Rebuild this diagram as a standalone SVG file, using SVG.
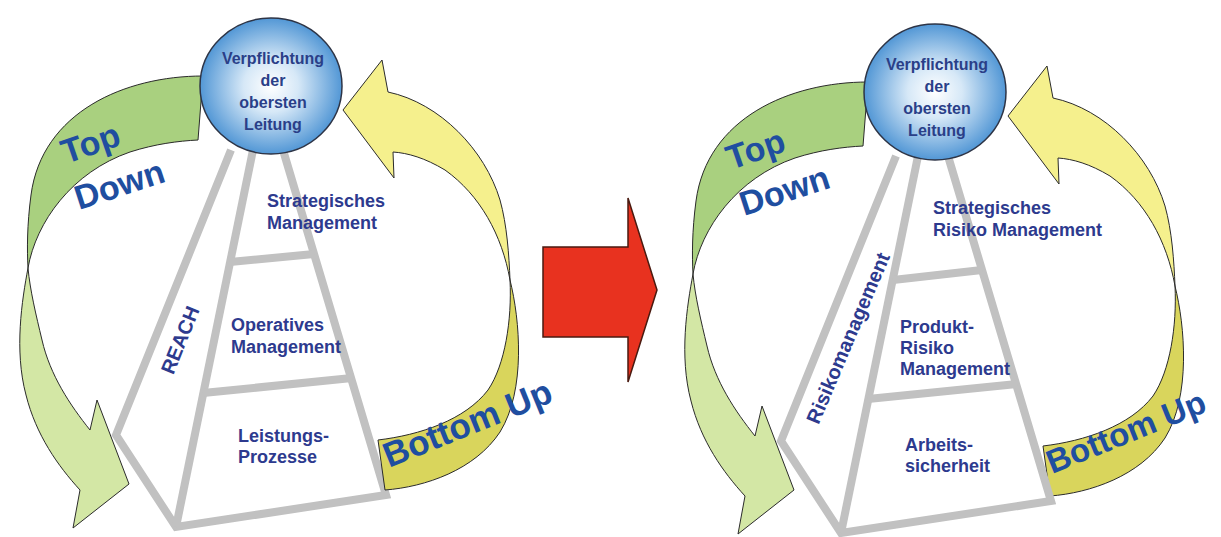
<svg xmlns="http://www.w3.org/2000/svg" width="1221" height="537" viewBox="0 0 1221 537">
  <defs>
    <radialGradient id="ballGrad" cx="50%" cy="50%" r="55%">
      <stop offset="0%" stop-color="#ffffff"/>
      <stop offset="35%" stop-color="#d6e8f7"/>
      <stop offset="100%" stop-color="#3d8ad0"/>
    </radialGradient>
    <style>
      .bar{fill:none;stroke:#c1c1c1;stroke-width:8;stroke-linejoin:miter;stroke-linecap:butt}
      .edge{stroke:#2b2b2b;stroke-width:1}
      .gUp{fill:#a9d07f}
      .gLo{fill:#d3e7a5}
      .yUp{fill:#f5f08d}
      .yLo{fill:#d9d55c}
      .ball{fill:url(#ballGrad);stroke:#2d3446;stroke-width:1.5}
      .btxt{font-family:"Liberation Sans",Arial,sans-serif;font-weight:bold;font-size:16px;fill:#2a3f88;text-anchor:middle}
      .lbl{font-family:"Liberation Sans",Arial,sans-serif;font-weight:bold;font-size:18px;fill:#2d3a8e}
      .big{font-family:"Liberation Sans",Arial,sans-serif;font-weight:bold;font-size:34px;fill:#1f4ea0}
      .bu{font-family:"Liberation Sans",Arial,sans-serif;font-weight:bold;font-size:35px;fill:#1f4ea0}
      .bu2{font-family:"Liberation Sans",Arial,sans-serif;font-weight:bold;font-size:33px;fill:#1f4ea0}
      .rot{font-family:"Liberation Sans",Arial,sans-serif;font-weight:bold;font-size:20px;fill:#2d3a8e;text-anchor:middle}
    </style>
  </defs>
  <rect width="1221" height="537" fill="#ffffff"/>

  <!-- ===== LEFT DIAGRAM ===== -->
  <g id="left-pyramid">
    <polyline class="bar" points="231,150 116,435 176,527 386,495 283,150"/>
    <line class="bar" x1="253" y1="150" x2="176" y2="527"/>
    <line class="bar" x1="230" y1="262" x2="314" y2="254"/>
    <line class="bar" x1="203" y1="393" x2="352" y2="378"/>
  </g>
  <g id="connectors">
    <g id="left-topdown">
      <path class="gUp edge" d="M203,76 C125,76 42,112 31,195 C27,225 27,250 28,268 C36,222 72,172 130,152 C155,144 178,141 198,140 Z"/>
      <path class="gLo edge" d="M28,268 C22,300 14,350 26,395 C36,435 58,466 80,490 L73,528 L129,484 L97,400 L90,430 C70,405 50,375 42,340 C36,315 30,290 28,268 Z"/>
    </g>
    <g id="left-bottomup">
      <path class="yUp edge" d="M343,110 L382,60 L388,92 C440,103 485,150 500,200 C507,225 509,255 510,280 C502,235 480,195 445,170 C425,158 408,153 393,152 L394,178 Z"/>
      <path class="yLo edge" d="M510,280 C520,320 526,390 500,432 C475,470 425,487 385,490 L378,440 C420,435 465,420 488,390 C505,365 512,320 510,280 Z"/>
    </g>
    <g id="right-topdown" transform="translate(665,6)">
      <path class="gUp edge" d="M203,76 C125,76 42,112 31,195 C27,225 27,250 28,268 C36,222 72,172 130,152 C155,144 178,141 198,140 Z"/>
      <path class="gLo edge" d="M28,268 C22,300 14,350 26,395 C36,435 58,466 80,490 L73,528 L129,484 L97,400 L90,430 C70,405 50,375 42,340 C36,315 30,290 28,268 Z"/>
    </g>
    <g id="right-bottomup" transform="translate(665,6)">
      <path class="yUp edge" d="M343,110 L382,60 L388,92 C440,103 485,150 500,200 C507,225 509,255 510,280 C502,235 480,195 445,170 C425,158 408,153 393,152 L394,178 Z"/>
      <path class="yLo edge" d="M510,280 C520,320 526,390 500,432 C475,470 425,487 385,490 L378,440 C420,435 465,420 488,390 C505,365 512,320 510,280 Z"/>
    </g>
  </g>

  <g id="left-top-management">
    <ellipse class="ball" cx="271" cy="86" rx="71" ry="68"/>
    <text class="btxt" x="273" y="64">Verpflichtung</text>
    <text class="btxt" x="273" y="86">der</text>
    <text class="btxt" x="273" y="108">obersten</text>
    <text class="btxt" x="273" y="130">Leitung</text>
  </g>
  <g id="left-labels">
    <text class="lbl" x="267" y="207">Strategisches</text>
    <text class="lbl" x="267" y="229">Management</text>
    <text class="lbl" x="231" y="331">Operatives</text>
    <text class="lbl" x="231" y="353">Management</text>
    <text class="lbl" x="238" y="442">Leistungs-</text>
    <text class="lbl" x="238" y="463">Prozesse</text>
    <text class="rot" transform="translate(180,340) rotate(-68)" y="7">REACH</text>
  </g>
  <g id="left-arrow-labels">
    <text class="big" transform="translate(66,164) rotate(-19)">Top</text>
    <text class="big" transform="translate(79,210) rotate(-18)">Down</text>
    <text class="bu" transform="translate(389,468) rotate(-22)">Bottom Up</text>
  </g>

  <!-- ===== TRANSITION ARROW ===== -->
  <g id="transition-arrow">
    <polygon points="543,247 628,247 628,198 657,290 628,382 628,337 543,337" fill="#e8321f" stroke="#4a1a10" stroke-width="1.5"/>
  </g>

  <!-- ===== RIGHT DIAGRAM ===== -->
  <g id="right-pyramid" transform="translate(665,6)">
    <polyline class="bar" points="231,150 116,435 176,527 386,495 283,150"/>
    <line class="bar" x1="253" y1="150" x2="176" y2="527"/>
    <line class="bar" x1="228" y1="274" x2="317" y2="264"/>
    <line class="bar" x1="203" y1="393" x2="352" y2="378"/>
  </g>
  <g id="right-top-management">
    <ellipse class="ball" cx="935" cy="92" rx="71" ry="68"/>
    <text class="btxt" x="937" y="70">Verpflichtung</text>
    <text class="btxt" x="937" y="92">der</text>
    <text class="btxt" x="937" y="114">obersten</text>
    <text class="btxt" x="937" y="136">Leitung</text>
  </g>
  <g id="right-labels">
    <text class="lbl" x="933" y="214">Strategisches</text>
    <text class="lbl" x="933" y="236">Risiko Management</text>
    <text class="lbl" x="900" y="333">Produkt-</text>
    <text class="lbl" x="900" y="354">Risiko</text>
    <text class="lbl" x="900" y="375">Management</text>
    <text class="lbl" x="905" y="451">Arbeits-</text>
    <text class="lbl" x="905" y="472">sicherheit</text>
    <text class="rot" transform="translate(848,338) rotate(-67)" y="7">Risikomanagement</text>
  </g>
  <g id="right-arrow-labels">
    <text class="big" transform="translate(731,170) rotate(-19)">Top</text>
    <text class="big" transform="translate(744,216) rotate(-18)">Down</text>
    <text class="bu2" transform="translate(1052,474) rotate(-22)">Bottom Up</text>
  </g>
</svg>
